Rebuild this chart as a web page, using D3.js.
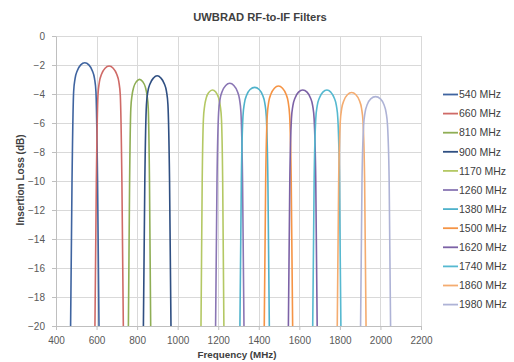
<!DOCTYPE html>
<html>
<head>
<meta charset="utf-8">
<script src="https://cdn.jsdelivr.net/npm/d3@7"></script>
<style>
  body { margin: 0; background: #fff; }
  svg { font-family: "Liberation Sans", Arial, sans-serif; }
</style>
</head>
<body>
<div class="chart"></div>
<script>
// filter names (legend)
var seriesNames = ["540 MHz", "660 MHz", "810 MHz", "900 MHz", "1170 MHz", "1260 MHz",
	"1380 MHz", "1500 MHz", "1620 MHz", "1740 MHz", "1860 MHz", "1980 MHz"];

// frequency points (MHz), one list per filter
var seriesFreq = [
	[472, 479, 487, 494, 505, 522, 542, 562, 579, 590, 597, 605, 612],
	[592, 599, 607, 614, 625, 642, 662, 682, 699, 710, 717, 725, 732],
	[757, 763, 769, 775, 783, 797, 812, 827, 841, 849, 855, 861, 867],
	[831, 838, 846, 853, 864, 881, 899, 917, 934, 945, 952, 960, 967],
	[1115, 1121, 1127, 1133, 1141, 1155, 1171, 1188, 1202, 1210, 1216, 1222, 1228],
	[1187, 1194, 1202, 1209, 1220, 1237, 1257, 1277, 1294, 1305, 1312, 1320, 1327],
	[1307, 1314, 1322, 1329, 1340, 1357, 1380, 1402, 1419, 1430, 1437, 1445, 1452],
	[1427, 1434, 1442, 1449, 1460, 1477, 1497, 1517, 1534, 1545, 1552, 1560, 1567],
	[1546, 1553, 1561, 1568, 1579, 1596, 1617, 1638, 1655, 1666, 1673, 1681, 1688],
	[1666, 1673, 1681, 1688, 1699, 1716, 1736, 1755, 1772, 1783, 1790, 1798, 1805],
	[1787, 1794, 1802, 1809, 1820, 1837, 1858, 1879, 1896, 1907, 1914, 1922, 1929],
	[1902, 1909, 1917, 1924, 1935, 1952, 1976, 2000, 2017, 2028, 2035, 2043, 2050]
];

// insertion loss (dB) at those points
var seriesLoss = [
	[-20, -10, -3.84, -2.94, -2.39, -1.99, -1.84, -1.99, -2.39, -2.94, -3.84, -10, -20],
	[-20, -10, -4.07, -3.17, -2.62, -2.22, -2.07, -2.22, -2.62, -3.17, -4.07, -10, -20],
	[-20, -10, -4.99, -4.09, -3.54, -3.14, -2.99, -3.14, -3.54, -4.09, -4.99, -10, -20],
	[-20, -10, -4.74, -3.84, -3.29, -2.89, -2.74, -2.89, -3.29, -3.84, -4.74, -10, -20],
	[-20, -10, -5.72, -4.82, -4.27, -3.87, -3.72, -3.87, -4.27, -4.82, -5.72, -10, -20],
	[-20, -10, -5.26, -4.36, -3.81, -3.41, -3.26, -3.41, -3.81, -4.36, -5.26, -10, -20],
	[-20, -10, -5.54, -4.64, -4.09, -3.69, -3.54, -3.69, -4.09, -4.64, -5.54, -10, -20],
	[-20, -10, -5.45, -4.55, -4.00, -3.60, -3.45, -3.60, -4.00, -4.55, -5.45, -10, -20],
	[-20, -10, -5.72, -4.82, -4.27, -3.87, -3.72, -3.87, -4.27, -4.82, -5.72, -10, -20],
	[-20, -10, -5.72, -4.82, -4.27, -3.87, -3.72, -3.87, -4.27, -4.82, -5.72, -10, -20],
	[-20, -10, -5.90, -5.00, -4.45, -4.05, -3.90, -4.05, -4.45, -5.00, -5.90, -10, -20],
	[-20, -10, -6.18, -5.28, -4.73, -4.33, -4.18, -4.33, -4.73, -5.28, -6.18, -10, -20]
];

var xTicks = [400, 600, 800, 1000, 1200, 1400, 1600, 1800, 2000, 2200];
var yTicks = [0, -2, -4, -6, -8, -10, -12, -14, -16, -18, -20];

var colors = ["#3f64a0", "#cf6a67", "#8fae55", "#2f4f82", "#b4c864", "#8a76b4",
	"#4fb2cb", "#f59445", "#7c62a6", "#56b9d0", "#f4ac70", "#aeb3d6"];

var width = 514,
	height = 362,
	plotL = 56, plotR = 421, plotT = 36, plotB = 326;

var x = d3.scaleLinear().domain([400, 2200]).range([plotL, plotR]);
var y = d3.scaleLinear().domain([-20, 0]).range([plotB, plotT]);

var svg = d3.select(".chart")
	.append("svg")
	.attr("width", width)
	.attr("height", height);

// grid
svg.append("g")
	.selectAll("line")
	.data(yTicks)
	.enter()
	.append("line")
	.attr("x1", plotL).attr("x2", plotR)
	.attr("y1", function(d) { return Math.round(y(d)) + 0.5; })
	.attr("y2", function(d) { return Math.round(y(d)) + 0.5; })
	.style("stroke", "#d9d9d9");

svg.append("g")
	.selectAll("line")
	.data(xTicks.slice(1))
	.enter()
	.append("line")
	.attr("y1", plotT).attr("y2", plotB)
	.attr("x1", function(d) { return Math.round(x(d)) + 0.5; })
	.attr("x2", function(d) { return Math.round(x(d)) + 0.5; })
	.style("stroke", "#d9d9d9");

// axes
var xAxis = svg.append("g")
	.attr("transform", "translate(0," + plotB + ")")
	.call(d3.axisBottom(x).tickValues(xTicks).tickFormat(d3.format("d"))
		.tickSize(4).tickPadding(7).tickSizeOuter(0));

var yAxis = svg.append("g")
	.attr("transform", "translate(" + plotL + ",0)")
	.call(d3.axisLeft(y).tickValues(yTicks).tickFormat(d3.format("d"))
		.tickSize(4).tickPadding(7).tickSizeOuter(0));

[xAxis, yAxis].forEach(function(a) {
	a.select(".domain").style("stroke", "#bfbfbf");
	a.selectAll(".tick line").style("stroke", "#bfbfbf");
	a.selectAll(".tick text")
		.style("font-family", "Liberation Sans, Arial, sans-serif")
		.style("font-size", "10px")
		.style("fill", "#595959");
});

// filter curves
var line = d3.line()
	.x(function(d) { return x(d[0]); })
	.y(function(d) { return y(d[1]); })
	.curve(d3.curveMonotoneX);

svg.append("g")
	.selectAll("path")
	.data(seriesNames)
	.enter()
	.append("path")
	.attr("d", function(d, i) {
		return line(seriesFreq[i].map(function(f, j) { return [f, seriesLoss[i][j]]; }));
	})
	.style("fill", "none")
	.style("stroke", function(d, i) { return colors[i]; })
	.style("stroke-width", 1.6);

// legend
var legend = svg.append("g")
	.selectAll("g")
	.data(seriesNames)
	.enter()
	.append("g")
	.attr("transform", function(d, i) { return "translate(443," + (94.5 + i * 19.1) + ")"; });

legend.append("line")
	.attr("x1", 0).attr("x2", 15)
	.style("stroke", function(d, i) { return colors[i]; })
	.style("stroke-width", 1.8);

legend.append("text")
	.attr("x", 16)
	.attr("dy", "0.36em")
	.style("font-size", "10.5px")
	.style("fill", "#404040")
	.text(function(d) { return d; });

// titles
svg.append("text")
	.attr("x", 260).attr("y", 21)
	.attr("text-anchor", "middle")
	.style("font-size", "11.2px")
	.style("font-weight", "bold")
	.style("fill", "#404040")
	.text("UWBRAD RF-to-IF Filters");

svg.append("text")
	.attr("x", 237).attr("y", 358)
	.attr("text-anchor", "middle")
	.style("font-size", "9.8px")
	.style("font-weight", "bold")
	.style("fill", "#404040")
	.text("Frequency (MHz)");

svg.append("text")
	.attr("transform", "translate(24,180) rotate(-90)")
	.attr("text-anchor", "middle")
	.style("font-size", "10px")
	.style("font-weight", "bold")
	.style("fill", "#404040")
	.text("Insertion Loss (dB)");
</script>
</body>
</html>
